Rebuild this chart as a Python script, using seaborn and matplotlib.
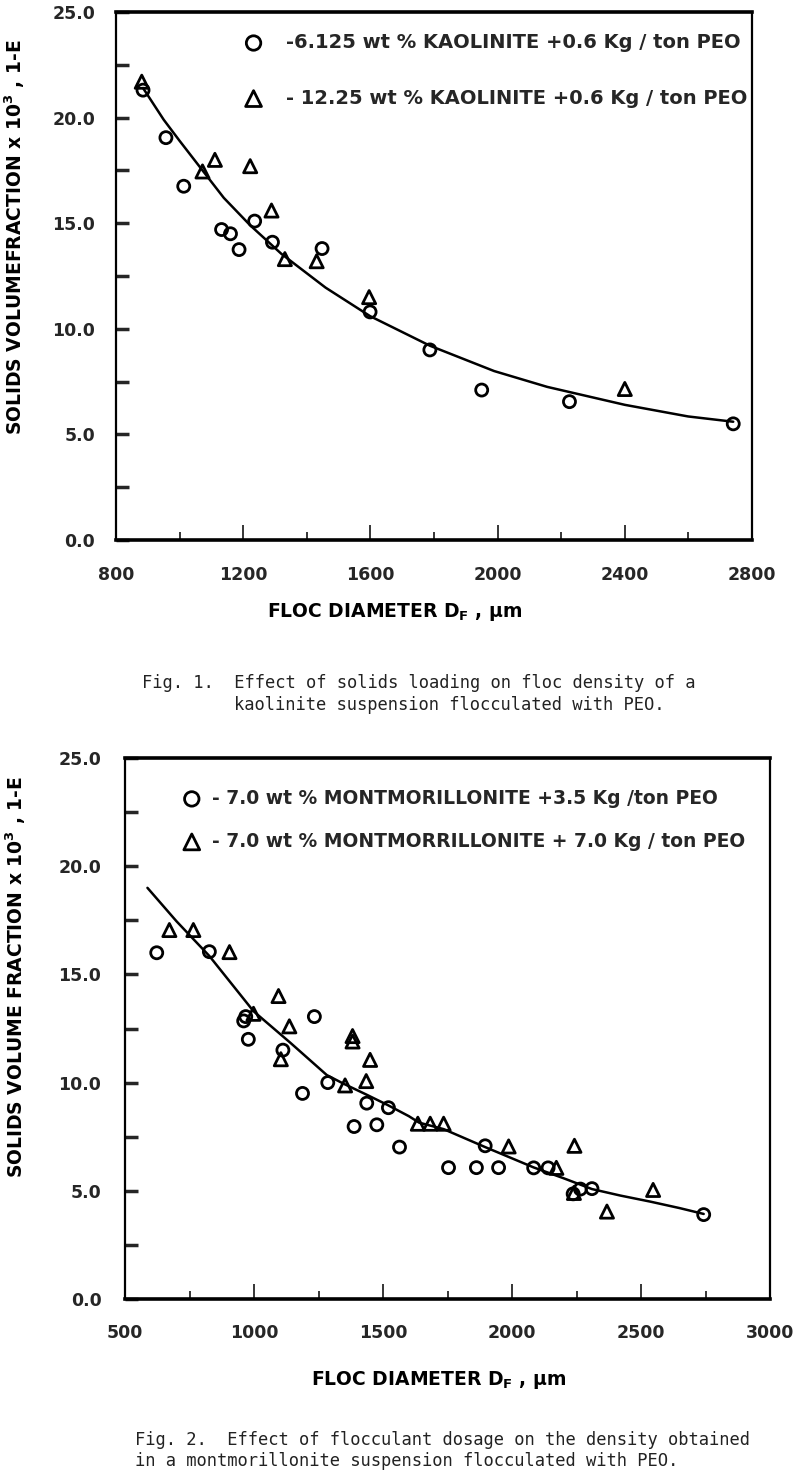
import numpy as np
import pandas as pd
import matplotlib
matplotlib.use("Agg")
import matplotlib.pyplot as plt
import seaborn as sns
from matplotlib.ticker import MultipleLocator, FormatStrFormatter

# ---------------- Fig. 1 data (kaolinite) ----------------
fig1_circle_x = [885, 957, 1013, 1132, 1160, 1187, 1236, 1292, 1448, 1599, 1787, 1950, 2226, 2741]
fig1_circle_y = [21.3, 19.05, 16.75, 14.7, 14.5, 13.75, 15.1, 14.1, 13.8, 10.8, 9.0, 7.1, 6.55, 5.5]
fig1_tri_x = [881, 1072, 1111, 1222, 1289, 1331, 1431, 1596, 2400]
fig1_tri_y = [21.7, 17.45, 18.0, 17.7, 15.6, 13.3, 13.2, 11.5, 7.15]
fig1_curve_x = [885, 950, 1000, 1072, 1139, 1222, 1320, 1459, 1599, 1787, 1989, 2156, 2400, 2599, 2741]
fig1_curve_y = [21.4, 19.9, 18.9, 17.5, 16.2, 14.9, 13.55, 11.95, 10.6, 9.2, 8.0, 7.25, 6.4, 5.85, 5.6]
fig1_labels = ["-6.125 wt % KAOLINITE +0.6 Kg / ton PEO",
               "- 12.25 wt % KAOLINITE +0.6 Kg / ton PEO"]
fig1_xticks = [800, 1200, 1600, 2000, 2400, 2800]

# ---------------- Fig. 2 data (montmorillonite) ----------------
fig2_circle_x = [623, 827, 960, 968, 978, 1112, 1188, 1234, 1286, 1388, 1437, 1476, 1521, 1564,
                 1754, 1862, 1896, 1948, 2084, 2140, 2237, 2265, 2310, 2743]
fig2_circle_y = [16.0, 16.05, 12.85, 13.05, 12.0, 11.5, 9.5, 13.05, 10.0, 7.97, 9.05, 8.05, 8.84, 7.02,
                 6.07, 6.07, 7.08, 6.07, 6.06, 6.06, 4.86, 5.08, 5.1, 3.9]
fig2_tri_x = [672, 765, 905, 998, 1095, 1104, 1137, 1353, 1382, 1382, 1435, 1450, 1635, 1683, 1735,
              1987, 2172, 2242, 2240, 2368, 2547]
fig2_tri_y = [17.05, 17.05, 16.03, 13.18, 14.0, 11.08, 12.6, 9.87, 12.15, 11.9, 10.07, 11.05, 8.1, 8.1, 8.1,
              7.05, 6.06, 7.08, 4.9, 4.04, 5.04]
fig2_curve_x = [587, 700, 827, 998, 1140, 1282, 1347, 1435, 1517, 1600, 1640, 1735, 1896, 2084, 2200,
                2310, 2420, 2536, 2650, 2743]
fig2_curve_y = [19.0, 17.45, 15.85, 13.3, 11.85, 10.35, 9.95, 9.45, 8.97, 8.45, 8.15, 7.85, 7.02, 6.08, 5.58,
                5.08, 4.78, 4.5, 4.2, 3.93]
fig2_labels = ["- 7.0 wt % MONTMORILLONITE +3.5 Kg /ton PEO",
               "- 7.0 wt % MONTMORRILLONITE + 7.0 Kg / ton PEO"]
fig2_xticks = [500, 1000, 1500, 2000, 2500, 3000]

yticks = [0, 5, 10, 15, 20, 25]

caption1 = ["Fig. 1.  Effect of solids loading on floc density of a",
            "kaolinite suspension flocculated with PEO."]
caption2 = ["Fig. 2.  Effect of flocculant dosage on the density obtained",
            "in a montmorillonite suspension flocculated with PEO."]

sns.set_theme(style="white")
plt.rcParams["font.family"] = ["DejaVu Sans"]
plt.rcParams["mathtext.fontset"] = "dejavusans"
plt.rcParams["mathtext.default"] = "bf"

W, H = 800, 1483
fig = plt.figure(figsize=(W / 100, H / 100), dpi=100)
fig.patch.set_facecolor("white")


def px_axes(l, t, r, b):
    return [l / W, 1 - b / H, (r - l) / W, (b - t) / H]


ax1 = fig.add_axes(px_axes(116, 12, 752, 540))
ax2 = fig.add_axes(px_axes(125, 758, 770, 1299))


def draw(ax, cx, cy, tx, ty, lx, ly, labels, xlim, xmin, xticks,
         leg_anchor, leg_size, leg_spacing, leg_pad, ylab, xlab_coords, ylab_coords,
         tick_pad_x, tick_pad_y):
    sns.scatterplot(x=cx, y=cy, ax=ax, marker="o", s=75, facecolor="none",
                    edgecolor="black", linewidth=2.0, label=labels[0], zorder=3)
    sns.scatterplot(x=tx, y=ty, ax=ax, marker="^", s=90, facecolor="none",
                    edgecolor="black", linewidth=2.0, label=labels[1], zorder=3)
    sns.lineplot(x=lx, y=ly, ax=ax, color="black", linewidth=1.8, sort=False,
                 estimator=None, zorder=2, legend=False)
    ax.set_xlim(*xlim)
    ax.set_ylim(0, 25)
    ax.set_xticks(xticks)
    ax.xaxis.set_minor_locator(MultipleLocator(xmin))
    ax.set_yticks(yticks)
    ax.yaxis.set_minor_locator(MultipleLocator(2.5))
    ax.yaxis.set_major_formatter(FormatStrFormatter("%.1f"))
    ax.tick_params(axis="x", which="major", direction="in", length=11, width=1.3,
                   pad=tick_pad_x, labelsize=12.5, bottom=True)
    ax.tick_params(axis="x", which="minor", direction="in", length=6, width=1.3, bottom=True)
    ax.tick_params(axis="y", which="both", direction="in", length=9, width=2.5,
                   pad=tick_pad_y, labelsize=12.5, left=True)
    for lab in ax.get_xticklabels() + ax.get_yticklabels():
        lab.set_fontweight("bold")
    for side in ["top", "bottom"]:
        ax.spines[side].set_linewidth(2.6)
    for side in ["left", "right"]:
        ax.spines[side].set_linewidth(1.6)
    for s in ax.spines.values():
        s.set_color("black")
        s.set_visible(True)
    ax.grid(False)
    ax.legend(loc="upper left", bbox_to_anchor=leg_anchor, frameon=False,
              prop=dict(weight="bold", size=leg_size), handletextpad=leg_pad,
              handlelength=1.0, labelspacing=leg_spacing, markerscale=1.2,
              borderaxespad=0, borderpad=0)
    ax.set_xlabel(r"FLOC DIAMETER D$_\mathbf{F}$ , µm", fontweight="bold",
                  fontsize=13.5, color="black")
    ax.xaxis.set_label_coords(*xlab_coords)
    ax.set_ylabel(ylab, fontweight="bold", fontsize=13.5, color="black")
    ax.yaxis.set_label_coords(*ylab_coords)


draw(ax1, fig1_circle_x, fig1_circle_y, fig1_tri_x, fig1_tri_y, fig1_curve_x, fig1_curve_y,
     fig1_labels, (800, 2800), 200, fig1_xticks, (0.201, 0.96), 14, 1.88, 1.15,
     r"SOLIDS VOLUMEFRACTION x 10$^\mathbf{3}$ , 1-E",
     (0.438, -0.115), (-0.14, 0.574), 19, 15)

draw(ax2, fig2_circle_x, fig2_circle_y, fig2_tri_x, fig2_tri_y, fig2_curve_x, fig2_curve_y,
     fig2_labels, (500, 3000), 250, fig2_xticks, (0.089, 0.943), 13.5, 1.28, 0.57,
     r"SOLIDS VOLUME FRACTION x 10$^\mathbf{3}$ , 1-E",
     (0.487, -0.13), (-0.15, 0.595), 18, 17)

cap = dict(family="DejaVu Sans Mono", fontsize=12.3, color="#222222", va="center", ha="left")
fig.text(142 / W, 1 - 683 / H, caption1[0], **cap)
fig.text(234 / W, 1 - 705 / H, caption1[1], **cap)
fig.text(135 / W, 1 - 1440 / H, caption2[0], **cap)
fig.text(135 / W, 1 - 1461 / H, caption2[1], **cap)

fig.savefig("out.png", dpi=100, facecolor="white")
